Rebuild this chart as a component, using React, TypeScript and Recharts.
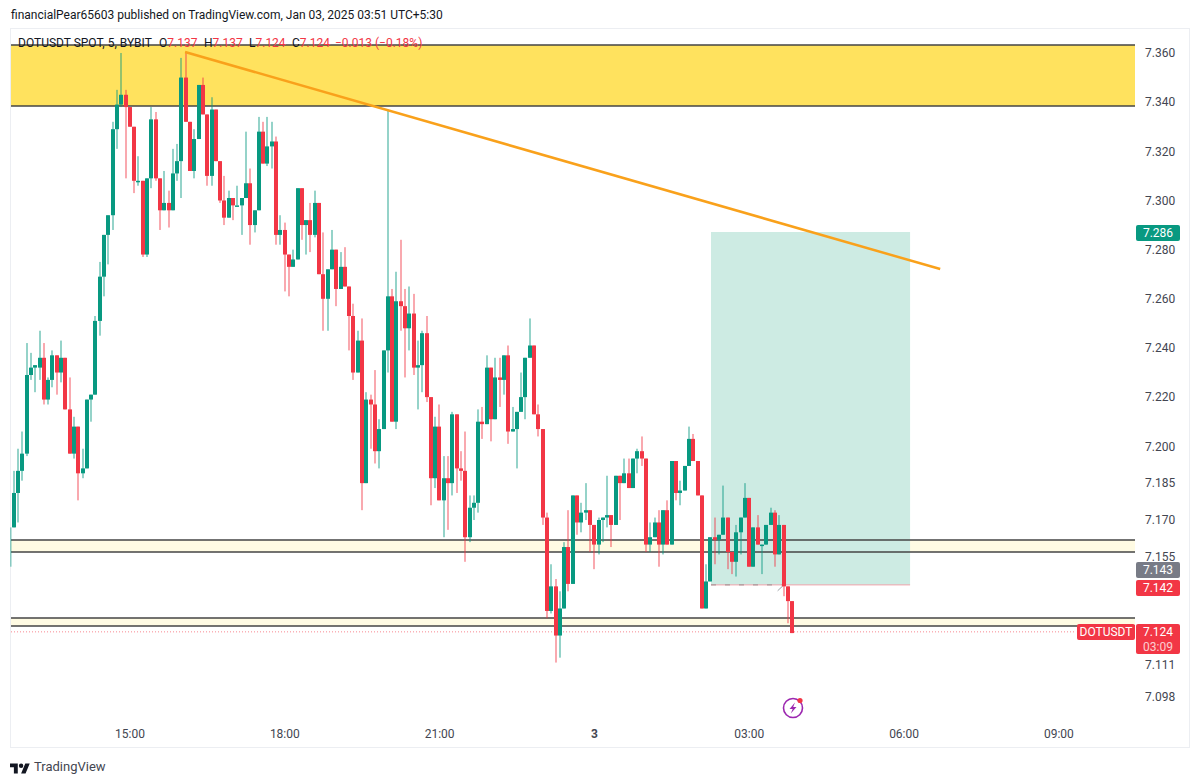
import React from 'react';
import { ComposedChart, Bar, XAxis, YAxis, ReferenceArea, ReferenceLine } from 'recharts';

// Each row: [open, high, low, close]. Five-minute bars; the first row is 27 bars before 15:00.
const session1 = [
[7.167,7.190,7.167,7.181],[7.181,7.199,7.169,7.190],[7.190,7.206,7.186,7.197],
[7.197,7.242,7.196,7.229],[7.229,7.238,7.227,7.232],[7.232,7.233,7.222,7.233],[7.232,7.247,7.227,7.236],
[7.236,7.242,7.217,7.219],[7.219,7.228,7.217,7.227],[7.227,7.239,7.224,7.237],[7.237,7.237,7.221,7.230],
[7.230,7.243,7.226,7.236],[7.236,7.236,7.215,7.215],[7.215,7.228,7.197,7.197],[7.197,7.212,7.195,7.208],
[7.208,7.208,7.178,7.189],[7.189,7.199,7.187,7.191],[7.191,7.219,7.191,7.219],[7.219,7.221,7.210,7.221],
[7.221,7.253,7.221,7.251],[7.251,7.275,7.245,7.269],[7.269,7.286,7.261,7.286],[7.286,7.294,7.274,7.294],
[7.294,7.332,7.288,7.329],[7.329,7.345,7.321,7.339],[7.339,7.360,7.338,7.343],[7.343,7.345,7.309,7.338],
];
const session2 = [
[7.338,7.338,7.330,7.330],[7.330,7.330,7.303,7.308],[7.308,7.318,7.306,7.308],[7.308,7.308,7.277,7.278],
[7.278,7.309,7.277,7.309],[7.309,7.338,7.305,7.333],[7.333,7.336,7.308,7.309],[7.309,7.309,7.288,7.296],
[7.296,7.312,7.296,7.299],[7.299,7.304,7.289,7.296],[7.296,7.321,7.296,7.311],[7.311,7.323,7.308,7.316],
[7.316,7.358,7.301,7.350],[7.350,7.360,7.332,7.332],[7.332,7.332,7.312,7.312],[7.312,7.329,7.309,7.325],
[7.325,7.347,7.325,7.347],[7.347,7.350,7.335,7.335],[7.335,7.335,7.306,7.310],[7.310,7.342,7.306,7.337],
[7.337,7.337,7.316,7.316],[7.316,7.316,7.299,7.300],[7.300,7.310,7.290,7.293],[7.293,7.304,7.293,7.301],
[7.301,7.301,7.292,7.298],[7.298,7.306,7.298,7.298],[7.298,7.301,7.286,7.301],[7.301,7.328,7.301,7.307],
[7.307,7.313,7.282,7.290],[7.290,7.296,7.287,7.296],[7.296,7.334,7.296,7.328],[7.328,7.332,7.315,7.315],
[7.315,7.334,7.314,7.322],[7.322,7.332,7.313,7.324],[7.324,7.326,7.282,7.286],[7.286,7.294,7.282,7.288],
];
const session3 = [
[7.288,7.291,7.263,7.278],[7.278,7.278,7.261,7.273],[7.273,7.280,7.273,7.276],[7.276,7.305,7.276,7.305],
[7.305,7.305,7.284,7.290],[7.290,7.292,7.278,7.292],[7.292,7.299,7.279,7.286],[7.286,7.304,7.285,7.299],
[7.299,7.299,7.270,7.270],[7.270,7.287,7.247,7.260],[7.260,7.272,7.247,7.272],[7.272,7.288,7.272,7.280],
[7.280,7.280,7.257,7.264],[7.264,7.279,7.264,7.273],[7.273,7.281,7.265,7.265],[7.265,7.265,7.239,7.253],
[7.253,7.258,7.227,7.230],[7.230,7.247,7.230,7.243],[7.243,7.252,7.174,7.185],[7.185,7.222,7.185,7.219],
[7.219,7.221,7.199,7.217],[7.217,7.231,7.193,7.198],[7.198,7.211,7.191,7.207],[7.207,7.239,7.207,7.239],
[7.239,7.337,7.230,7.261],[7.261,7.264,7.210,7.210],[7.210,7.271,7.207,7.259],[7.259,7.284,7.247,7.257],
[7.257,7.264,7.228,7.248],[7.248,7.265,7.239,7.254],[7.254,7.262,7.229,7.232],[7.232,7.243,7.215,7.233],
[7.233,7.247,7.222,7.246],[7.246,7.253,7.218,7.220],[7.220,7.220,7.176,7.187],[7.187,7.212,7.183,7.208],
];
const session4 = [
[7.208,7.217,7.178,7.178],[7.178,7.196,7.163,7.187],[7.187,7.196,7.166,7.185],[7.185,7.214,7.180,7.213],
[7.213,7.213,7.181,7.191],[7.191,7.198,7.186,7.190],[7.190,7.206,7.153,7.163],[7.163,7.180,7.161,7.175],
[7.175,7.180,7.170,7.177],[7.177,7.215,7.173,7.210],[7.210,7.216,7.203,7.209],[7.209,7.237,7.209,7.232],
[7.232,7.232,7.202,7.211],[7.211,7.236,7.211,7.228],[7.228,7.236,7.216,7.227],[7.227,7.237,7.221,7.237],
[7.237,7.241,7.201,7.206],[7.206,7.216,7.206,7.207],[7.207,7.214,7.191,7.214],[7.214,7.230,7.214,7.220],
[7.220,7.236,7.211,7.236],[7.236,7.252,7.236,7.241],[7.241,7.241,7.213,7.213],[7.213,7.217,7.204,7.207],
[7.207,7.207,7.168,7.171],[7.171,7.173,7.130,7.133],[7.133,7.152,7.132,7.143],[7.143,7.146,7.112,7.123],
[7.123,7.141,7.114,7.134],[7.134,7.161,7.134,7.159],[7.159,7.174,7.141,7.144],[7.144,7.180,7.144,7.180],
[7.180,7.180,7.164,7.169],[7.169,7.177,7.165,7.173],[7.173,7.185,7.170,7.174],[7.174,7.174,7.157,7.168],
];
const session5 = [
[7.168,7.168,7.150,7.160],[7.160,7.171,7.156,7.170],[7.170,7.171,7.161,7.171],[7.171,7.188,7.167,7.172],
[7.172,7.172,7.159,7.168],[7.168,7.188,7.168,7.188],[7.188,7.188,7.170,7.185],[7.185,7.195,7.185,7.189],
[7.189,7.195,7.183,7.183],[7.183,7.195,7.183,7.195],[7.195,7.199,7.189,7.198],[7.198,7.204,7.192,7.195],
[7.195,7.195,7.157,7.160],[7.160,7.169,7.157,7.163],[7.163,7.171,7.163,7.169],[7.169,7.174,7.151,7.160],
[7.160,7.174,7.156,7.174],[7.174,7.178,7.160,7.160],[7.160,7.194,7.160,7.194],[7.194,7.194,7.178,7.181],
[7.181,7.186,7.176,7.182],[7.182,7.192,7.182,7.192],[7.192,7.208,7.192,7.203],[7.203,7.205,7.194,7.194],
[7.194,7.194,7.180,7.180],[7.180,7.180,7.134,7.134],[7.134,7.152,7.134,7.145],[7.145,7.163,7.145,7.163],
[7.163,7.171,7.152,7.162],[7.162,7.164,7.156,7.164],[7.164,7.184,7.164,7.171],[7.171,7.171,7.150,7.157],
[7.157,7.157,7.148,7.153],[7.153,7.168,7.147,7.165],[7.165,7.171,7.156,7.171],[7.171,7.185,7.171,7.179],
];
const session6 = [
[7.179,7.179,7.151,7.151],[7.151,7.167,7.151,7.167],[7.167,7.172,7.160,7.160],[7.160,7.160,7.148,7.160],
[7.160,7.168,7.160,7.168],[7.168,7.175,7.168,7.173],[7.173,7.174,7.151,7.156],[7.156,7.172,7.156,7.168],
[7.168,7.168,7.139,7.143],[7.143,7.143,7.128,7.137],[7.137,7.137,7.124,7.124],
];

const firstBarIndex = -27;
const xTickIndex = [0, 36, 72, 108, 144, 180, 216];
const xTickLabels = ['15:00', '18:00', '21:00', '3', '03:00', '06:00', '09:00'];
const yTicks = [7.36, 7.34, 7.32, 7.3, 7.28, 7.26, 7.24, 7.22, 7.2, 7.185, 7.17, 7.155, 7.111, 7.098];

const yellowZone = [7.3633, 7.3384];
const upperBand = [7.1619, 7.157];
const lowerBand = [7.1301, 7.1269];
const longBox = { top: 7.2872, bottom: 7.1436, from: 135.1, to: 181.4 };
const trend = { x1: 12.8, y1: 7.3604, x2: 188.4, y2: 7.2721 };
const lastPrice = 7.1245;
const cutOffWick = { x: -27.7, high: 7.167, low: 7.151 };

const GREEN = '#089981';
const RED = '#f23645';
const FONT = 'Roboto, sans-serif';
const PANE_L = -27.67;
const PANE_R = 233.7;

const rows = [...session1, ...session2, ...session3, ...session4, ...session5, ...session6].map((r, k) => ({
  idx: firstBarIndex + k,
  open: r[0], high: r[1], low: r[2], close: r[3],
  range: [r[2], r[1]],
}));

const Candle = (props: any) => {
  const { x, y, width, height, payload } = props;
  const { open, high, low, close } = payload;
  const color = close >= open ? GREEN : RED;
  const perUnit = high > low ? height / (high - low) : 0;
  const cx = Math.round(x + width / 2);
  const top = y + (high - Math.max(open, close)) * perUnit;
  const bot = y + (high - Math.min(open, close)) * perUnit;
  return (
    <g>
      <rect x={cx - 0.5} y={y} width={1} height={Math.max(height, 1)} fill={color} opacity={0.85} />
      <rect x={cx - 2} y={top} width={4} height={Math.max(bot - top, 1.5)} fill={color} />
    </g>
  );
};

const XTick = (props: any) => {
  const { x, payload } = props;
  const label = xTickLabels[xTickIndex.indexOf(payload.value)];
  const bold = label === '3';
  return (
    <text x={x} y={738} textAnchor="middle" fontFamily={FONT} fontSize={12} fontWeight={bold ? 700 : 400} fill="#434651">
      {label}
    </text>
  );
};

const abs = (l: number, t: number, w: number, h: number, extra: any = {}) => ({
  position: 'absolute' as const, left: l, top: t, width: w, height: h, ...extra,
});

const Badge = ({ l, t, w, h, bg, children }: any) => (
  <div style={abs(l, t, w, h, { background: bg, borderRadius: 2, color: '#fff', fontFamily: FONT, fontSize: 12, textAlign: 'center', lineHeight: '16px' })}>
    {children}
  </div>
);

const Txt = ({ l, t, c, children, size = 12 }: any) => (
  <span style={{ position: 'absolute', left: l, top: t, color: c, fontFamily: FONT, fontSize: size, lineHeight: '14px', whiteSpace: 'nowrap' }}>
    {children}
  </span>
);

const HLine = (y: number) => (
  <ReferenceLine segment={[{ x: PANE_L, y }, { x: PANE_R, y }]} stroke="#444" strokeWidth={1.5} />
);

export default function App() {
  return (
    <div style={{ position: 'absolute', left: 0, top: 0, width: 1200, height: 784, overflow: 'hidden', background: '#fff' }}>
      <div style={abs(10, 28, 1180, 720, { border: '1px solid #eceef2', boxSizing: 'border-box' })} />
      <div style={{ position: 'absolute', left: 0, top: 0 }}>
        <ComposedChart width={1200} height={784} data={rows} margin={{ top: 29, right: 0, left: 7.45, bottom: 36 }} barSize={4}>
          <XAxis
            dataKey="idx" type="number" domain={[-28.5, PANE_R]} ticks={xTickIndex} interval={0}
            axisLine={false} tickLine={false} height={30} tick={<XTick />}
          />
          <YAxis
            orientation="right" width={65} domain={[7.08945, 7.36976]} ticks={yTicks} interval={0}
            axisLine={false} tickLine={false} tickMargin={4}
            tickFormatter={(v: number) => v.toFixed(3)}
            tick={{ fontFamily: FONT, fontSize: 12, fill: '#434651' }}
          />
          <ReferenceArea x1={PANE_L} x2={PANE_R} y1={yellowZone[0]} y2={yellowZone[1]} fill="#ffe25e" fillOpacity={1} stroke="none" />
          <ReferenceArea x1={PANE_L} x2={PANE_R} y1={upperBand[0]} y2={upperBand[1]} fill="#fffbe3" fillOpacity={1} stroke="none" />
          <ReferenceArea x1={PANE_L} x2={PANE_R} y1={lowerBand[0]} y2={lowerBand[1]} fill="#fffbe3" fillOpacity={1} stroke="none" />
          <ReferenceArea x1={longBox.from} x2={longBox.to} y1={longBox.top} y2={longBox.bottom} fill="#cdebe3" fillOpacity={1} stroke="none" />
          {HLine(yellowZone[0])}
          {HLine(yellowZone[1])}
          {HLine(upperBand[0])}
          {HLine(upperBand[1])}
          {HLine(lowerBand[0])}
          {HLine(lowerBand[1])}
          <ReferenceLine segment={[{ x: longBox.from, y: longBox.bottom }, { x: longBox.to, y: longBox.bottom }]} stroke="#f2a3ab" strokeWidth={1} />
          <ReferenceLine segment={[{ x: longBox.from, y: longBox.bottom }, { x: 151.5, y: longBox.bottom }]} stroke="#9a8f90" strokeWidth={1} strokeDasharray="5 9" />
          <ReferenceLine segment={[{ x: 150.6, y: 7.1412 }, { x: 151.8, y: 7.1432 }]} stroke="#9aa0a6" strokeWidth={1} />
          <ReferenceLine segment={[{ x: cutOffWick.x, y: cutOffWick.high }, { x: cutOffWick.x, y: cutOffWick.low }]} stroke={GREEN} strokeOpacity={0.7} strokeWidth={1} />
          <ReferenceLine segment={[{ x: PANE_L, y: lastPrice }, { x: 220, y: lastPrice }]} stroke={RED} strokeOpacity={0.6} strokeWidth={1} strokeDasharray="1 2" />
          <Bar dataKey="range" isAnimationActive={false} shape={<Candle />} zIndex={1000} />
          <ReferenceLine segment={[{ x: trend.x1, y: trend.y1 }, { x: trend.x2, y: trend.y2 }]} stroke="#f9a11b" strokeWidth={2.5} zIndex={1100} />
        </ComposedChart>
      </div>

      <Txt l={11} t={8} c="#131722">financialPear65603 published on TradingView.com, Jan 03, 2025 03:51 UTC+5:30</Txt>

      <Txt l={18} t={36} c="#131722">DOTUSDT SPOT, 5, BYBIT</Txt>
      <Txt l={159} t={36} c="#131722">O<span style={{ color: RED }}>7.137</span></Txt>
      <Txt l={204} t={36} c="#131722">H<span style={{ color: RED }}>7.137</span></Txt>
      <Txt l={249} t={36} c="#131722">L<span style={{ color: RED }}>7.124</span></Txt>
      <Txt l={292} t={36} c="#131722">C<span style={{ color: RED }}>7.124</span></Txt>
      <Txt l={335} t={36} c={RED}>−0.013 (−0.18%)</Txt>

      <Badge l={1136} t={225} w={44} h={16} bg={GREEN}>7.286</Badge>
      <Badge l={1136} t={562} w={44} h={16} bg="#787b86">7.143</Badge>
      <Badge l={1136} t={580} w={44} h={16} bg={RED}>7.142</Badge>
      <Badge l={1077} t={624} w={58} h={16} bg={RED}>DOTUSDT</Badge>
      <Badge l={1136} t={624} w={44} h={30} bg={RED}>
        <div style={{ lineHeight: '16px' }}>7.124</div>
        <div style={{ lineHeight: '14px', opacity: 0.75 }}>03:09</div>
      </Badge>

      <svg style={abs(780, 695, 26, 26)} viewBox="0 0 26 26">
        <circle cx={13} cy={13} r={9.5} fill="none" stroke="#9c27b0" strokeWidth={1.6} />
        <path d="M15 7.5 L9.5 14 L12.7 14 L10.8 18.5 L16.5 12 L13.2 12 Z" fill="#9c27b0" />
        <circle cx={20} cy={5.5} r={2.6} fill={RED} />
      </svg>

      <svg style={abs(10, 761, 20, 16)} viewBox="0 0 36 28">
        <path d="M14 22H7V11H0V4h14v18zM28 22h-8l7.5-18h8L28 22z" fill="#131722" />
        <circle cx={20} cy={8} r={4} fill="#131722" />
      </svg>
      <Txt l={34} t={760} c="#434651" size={13}>TradingView</Txt>
    </div>
  );
}
